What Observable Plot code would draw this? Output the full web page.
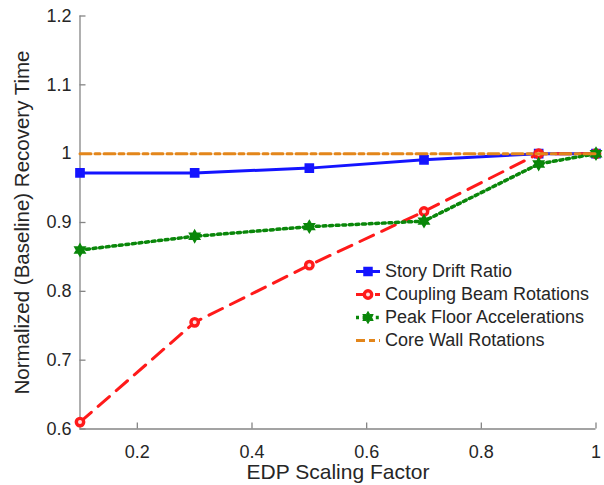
<!DOCTYPE html>
<html>
<head>
<meta charset="utf-8">
<script src="https://cdn.jsdelivr.net/npm/d3@7"></script>
<script src="https://cdn.jsdelivr.net/npm/@observablehq/plot@0.6"></script>
<style>
  html, body { margin: 0; padding: 0; background: white; }
  #wrap { position: relative; width: 604px; height: 485px; overflow: hidden; background: white; }
  #legend { position: absolute; left: 354px; top: 260px; font-family: "Liberation Sans", Arial, sans-serif; font-size: 18px; color: #262626; }
  #legend .row { height: 23px; display: flex; align-items: center; white-space: nowrap; }
  #legend svg { margin-right: 4px; flex: none; }
</style>
</head>
<body>
<div id="wrap"><div id="chart"></div><div id="legend"></div></div>
<script>
// ---- data ----
const xValues = [0.1, 0.3, 0.5, 0.7, 0.9, 1.0];
const storyDrift = [0.972, 0.972, 0.979, 0.991, 1.0, 1.0];
const couplingBeam = [0.61, 0.755, 0.838, 0.916, 1.0, 1.0];
const peakFloor = [0.86, 0.88, 0.894, 0.902, 0.985, 1.0];
const coreWall = [1.0, 1.0, 1.0, 1.0, 1.0, 1.0];
const seriesNames = ["Story Drift Ratio", "Coupling Beam Rotations", "Peak Floor Accelerations", "Core Wall Rotations"];
const xTicks = [0.2, 0.4, 0.6, 0.8, 1];
const yTicks = [0.6, 0.7, 0.8, 0.9, 1, 1.1, 1.2];
const xLabel = "EDP Scaling Factor";
const yLabel = "Normalized (Baseline) Recovery Time";

// ---- styles ----
const colors = ["#1414ff", "#ff1a1a", "#0a870a", "#e3861b"];
const font = '"Liberation Sans", Arial, sans-serif';
const axisColor = "#858585";
const textColor = "#262626";

function hexPath(ctx, R) {
  const r = R / Math.sqrt(3);
  for (let i = 0; i < 12; i++) {
    const a = -Math.PI / 2 + i * Math.PI / 6;
    const rad = i % 2 === 0 ? R : r;
    const px = rad * Math.cos(a), py = rad * Math.sin(a);
    if (i === 0) ctx.moveTo(px, py); else ctx.lineTo(px, py);
  }
  ctx.closePath();
}
const hexagram = {
  draw(context, size) { hexPath(context, Math.sqrt(size / Math.PI) * 1.35); }
};

const seriesValues = [storyDrift, couplingBeam, peakFloor, coreWall];
const table = seriesValues.map((vals, s) => xValues.map((x, i) => ({x, y: vals[i], s: seriesNames[s]})));

const W = 604, H = 485;
const mL = 79.5, mR = 8.5, mT = 15.5, mB = 56.5;
const frameW = W - mL - mR, frameH = H - mT - mB;

const lineStyles = [
  {strokeWidth: 3},
  {strokeWidth: 3, strokeDasharray: "15,9"},
  {strokeWidth: 3.5, strokeDasharray: "3,3.6"},
  {strokeWidth: 3, strokeDasharray: "11,4,5,4"}
];

const marks = [
  // spines and inward ticks
  Plot.ruleX([0.1], {stroke: axisColor, strokeWidth: 1.3}),
  Plot.ruleY([0.6], {stroke: axisColor, strokeWidth: 1.3}),
  Plot.ruleX(xTicks, {stroke: axisColor, strokeWidth: 1.3, insetTop: frameH - 6}),
  Plot.ruleY(yTicks, {stroke: axisColor, strokeWidth: 1.3, insetRight: frameW - 6}),
  Plot.axisX(xTicks, {tickSize: 0, tickPadding: 16.5, tickFormat: d => String(d), label: null, fontSize: 18, fill: textColor}),
  Plot.axisY(yTicks, {tickSize: 0, tickPadding: 8.5, tickFormat: d => String(d), label: null, fontSize: 18, fill: textColor}),
  // series
  Plot.line(table[0], {x: "x", y: "y", stroke: colors[0], ...lineStyles[0]}),
  Plot.dot(table[0], {x: "x", y: "y", symbol: "square", r: 4.6, fill: colors[0], stroke: colors[0], strokeWidth: 1.5}),
  Plot.line(table[1], {x: "x", y: "y", stroke: colors[1], ...lineStyles[1]}),
  Plot.dot(table[1], {x: "x", y: "y", symbol: "circle", r: 3.7, fill: "#ffe0e0", stroke: colors[1], strokeWidth: 3.4}),
  Plot.line(table[2], {x: "x", y: "y", stroke: colors[2], ...lineStyles[2]}),
  Plot.dot(table[2], {x: "x", y: "y", symbol: hexagram, r: 4.4, fill: colors[2], stroke: colors[2], strokeWidth: 1.5}),
  Plot.line(table[3], {x: "x", y: "y", stroke: colors[3], ...lineStyles[3]}),
  // axis titles
  Plot.text([xLabel], {frameAnchor: "bottom", dy: 35.5, lineAnchor: "top", textAnchor: "middle", fontSize: 21, fill: textColor}),
  Plot.text([yLabel], {frameAnchor: "left", dx: -57.5, rotate: -90, lineAnchor: "middle", textAnchor: "middle", fontSize: 20.5, fill: textColor})
];

const chart = Plot.plot({
  width: W, height: H,
  marginLeft: mL, marginRight: mR, marginTop: mT, marginBottom: mB,
  x: {domain: [0.1, 1], axis: null},
  y: {domain: [0.6, 1.2], axis: null},
  style: {fontFamily: font, fontSize: "18px", color: textColor, background: "white"},
  marks
});
document.getElementById("chart").appendChild(chart);

// ---- legend ----
const legend = document.getElementById("legend");
const hexD = (() => {
  const parts = [];
  const ctx = {moveTo: (x, y) => parts.push("M" + (14 + x).toFixed(2) + "," + (11.5 + y).toFixed(2)),
               lineTo: (x, y) => parts.push("L" + (14 + x).toFixed(2) + "," + (11.5 + y).toFixed(2)),
               closePath: () => parts.push("Z")};
  hexPath(ctx, 6);
  return parts.join("");
})();
const markerSvg = [
  '<rect x="10" y="7.5" width="8" height="8" fill="' + colors[0] + '" stroke="' + colors[0] + '" stroke-width="1.5"/>',
  '<circle cx="14" cy="11.5" r="3.7" fill="#ffe0e0" stroke="' + colors[1] + '" stroke-width="3.4"/>',
  '<path d="' + hexD + '" fill="' + colors[2] + '" stroke="' + colors[2] + '" stroke-width="1"/>',
  ''
];
const legendDash = ["", "13,6", "3,3.6", "9,4,6,4"];
seriesNames.forEach((name, i) => {
  const st = lineStyles[i];
  const row = document.createElement("div");
  row.className = "row";
  row.innerHTML = '<svg width="27" height="23"><line x1="2" x2="26" y1="11.5" y2="11.5" stroke="' + colors[i] + '" stroke-width="' + st.strokeWidth + '"' + (legendDash[i] ? ' stroke-dasharray="' + legendDash[i] + '"' : '') + '/>' + markerSvg[i] + '</svg>';
  const span = document.createElement("span");
  span.textContent = name;
  row.appendChild(span);
  legend.appendChild(row);
});
</script>
</body>
</html>
